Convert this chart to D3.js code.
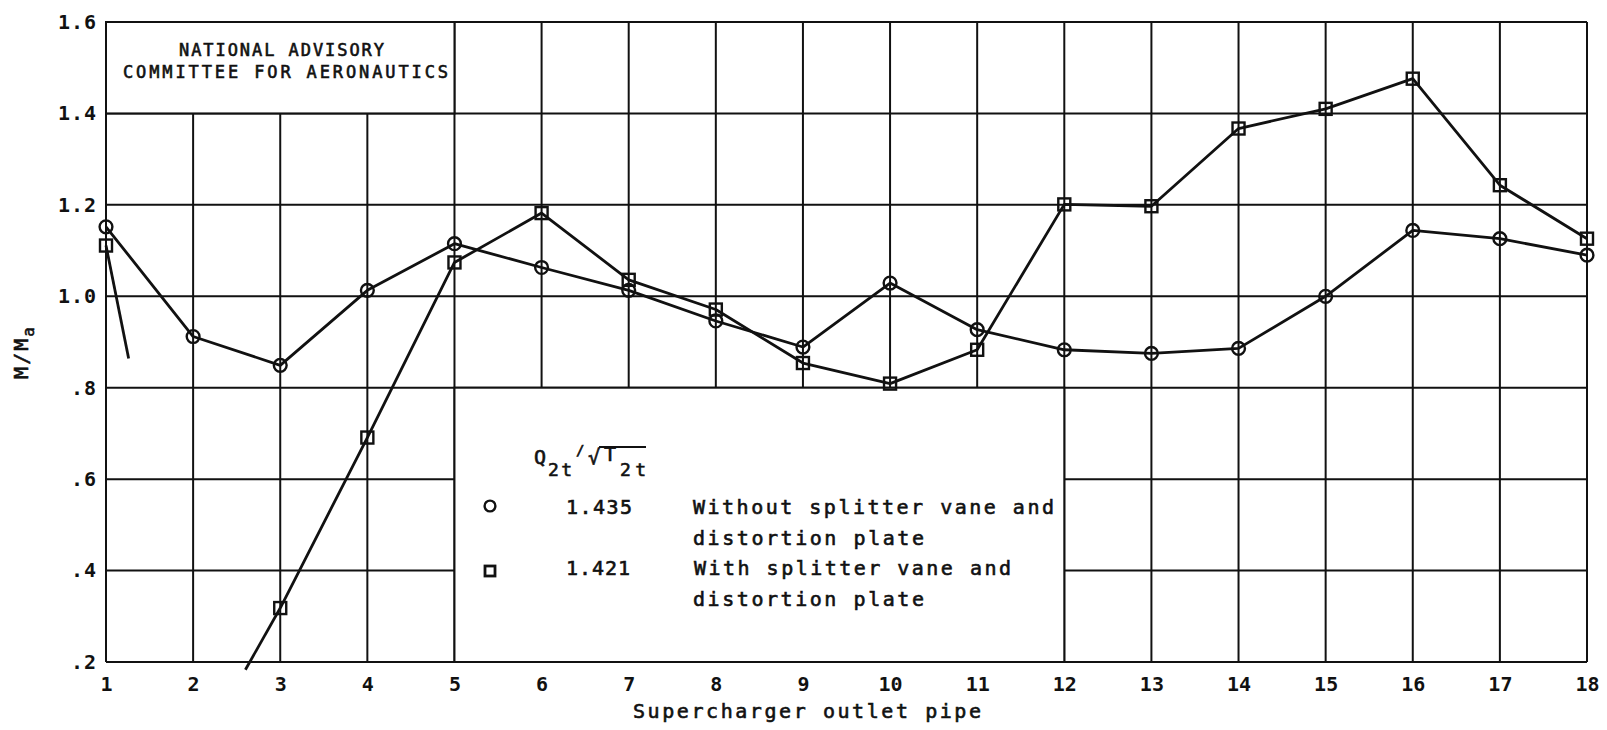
<!DOCTYPE html>
<html>
<head>
<meta charset="utf-8">
<script src="https://cdn.jsdelivr.net/npm/d3@7"></script>
<style>
  body { margin: 0; background: #fff; }
  svg { display: block; }
  .lbl { font-family: "DejaVu Sans Mono", monospace; fill: #111; }
  .heavy { stroke: #111; stroke-width: 0.6px; }
</style>
</head>
<body>
<div class="chart"></div>
<script>
// data
var pipes = [1, 2, 3, 4, 5, 6, 7, 8, 9, 10, 11, 12, 13, 14, 15, 16, 17, 18];
var withoutVane = [1.152, 0.912, 0.849, 1.013, 1.115, 1.063, 1.013, 0.946, 0.889, 1.029, 0.927, 0.883, 0.875, 0.886, 1.0, 1.144, 1.126, 1.09];
// pipe 2 falls below the chart
var withVane = [1.111, null, 0.318, 0.691, 1.074, 1.182, 1.036, 0.971, 0.854, 0.809, 0.883, 1.201, 1.197, 1.367, 1.41, 1.476, 1.243, 1.126];
// broken-off line pieces toward the off-chart point
var withVaneStubs = [{from: 1, pipe: 1.26, value: 0.864}, {from: 3, pipe: 2.60, value: 0.183}];
var yTicks = [0.2, 0.4, 0.6, 0.8, 1.0, 1.2, 1.4, 1.6];
var yTickLabels = [".2", ".4", ".6", ".8", "1.0", "1.2", "1.4", "1.6"];
var xTickLabels = ["1", "2", "3", "4", "5", "6", "7", "8", "9", "10", "11", "12", "13", "14", "15", "16", "17", "18"];

var W = 1607, H = 730;
var margin = {top: 22, right: 20, bottom: 68, left: 106},
    width = W - margin.left - margin.right,
    height = H - margin.top - margin.bottom;

var x = d3.scaleLinear().domain([1, 18]).range([0, width]);
var y = d3.scaleLinear().domain([0.2, 1.6]).range([height, 0]);

var svg = d3.select(".chart").append("svg")
    .attr("width", W)
    .attr("height", H);
svg.append("rect").attr("width", W).attr("height", H).attr("fill", "#fff");

var g = svg.append("g")
    .attr("transform", "translate(" + margin.left + "," + margin.top + ")");

// grid
g.selectAll(".hgrid")
    .data(yTicks)
    .enter().append("line")
    .attr("x1", x(1)).attr("x2", x(18))
    .attr("y1", function (d) { return y(d); })
    .attr("y2", function (d) { return y(d); })
    .attr("stroke", "#111").attr("stroke-width", 2);
g.selectAll(".vgrid")
    .data(pipes)
    .enter().append("line")
    .attr("x1", function (d) { return x(d); })
    .attr("x2", function (d) { return x(d); })
    .attr("y1", y(0.2)).attr("y2", y(1.6))
    .attr("stroke", "#111").attr("stroke-width", 2);

// boxes that blank out the grid
function box(p0, p1, v0, v1) {
    return g.append("rect")
        .attr("x", x(p0)).attr("y", y(v1))
        .attr("width", x(p1) - x(p0)).attr("height", y(v0) - y(v1))
        .attr("fill", "#fff").attr("stroke", "#111").attr("stroke-width", 2);
}
box(1, 5, 1.4, 1.6);
box(5, 12, 0.2, 0.8);

// axes
var yAxis = g.append("g")
    .call(d3.axisLeft(y).tickValues(yTicks)
        .tickFormat(function (d, i) { return yTickLabels[i]; })
        .tickSize(0).tickPadding(9));
yAxis.select(".domain").remove();
yAxis.selectAll("text")
    .attr("class", "lbl")
    .style("font-size", "20px").style("font-weight", "bold")
    .attr("letter-spacing", "1px");

var xAxis = g.append("g")
    .attr("transform", "translate(0," + height + ")")
    .call(d3.axisBottom(x).tickValues(pipes)
        .tickFormat(function (d, i) { return xTickLabels[i]; })
        .tickSize(0).tickPadding(15));
xAxis.select(".domain").remove();
xAxis.selectAll("text")
    .attr("class", "lbl")
    .style("font-size", "20px").style("font-weight", "bold");

// lines
var line = d3.line()
    .defined(function (d) { return d.value != null; })
    .x(function (d) { return x(d.pipe); })
    .y(function (d) { return y(d.value); });

var circleData = pipes.map(function (p, i) { return {pipe: p, value: withoutVane[i]}; });
var squareData = pipes.map(function (p, i) { return {pipe: p, value: withVane[i]}; });

g.append("path")
    .datum(circleData)
    .attr("d", line)
    .attr("fill", "none").attr("stroke", "#111").attr("stroke-width", 2.8)
    .attr("stroke-linejoin", "round");
g.append("path")
    .datum(squareData)
    .attr("d", line)
    .attr("fill", "none").attr("stroke", "#111").attr("stroke-width", 2.8)
    .attr("stroke-linejoin", "round");
g.selectAll(".stub")
    .data(withVaneStubs)
    .enter().append("path")
    .attr("d", function (s) {
        return line([{pipe: s.from, value: withVane[pipes.indexOf(s.from)]}, {pipe: s.pipe, value: s.value}]);
    })
    .attr("fill", "none").attr("stroke", "#111").attr("stroke-width", 2.8);

// markers
g.selectAll(".circ")
    .data(circleData)
    .enter().append("circle")
    .attr("cx", function (d) { return x(d.pipe); })
    .attr("cy", function (d) { return y(d.value); })
    .attr("r", 6.4)
    .attr("fill", "none").attr("stroke", "#111").attr("stroke-width", 2.4);
g.selectAll(".sq")
    .data(squareData.filter(function (d) { return d.value != null; }))
    .enter().append("rect")
    .attr("x", function (d) { return x(d.pipe) - 6; })
    .attr("y", function (d) { return y(d.value) - 6; })
    .attr("width", 12).attr("height", 12)
    .attr("fill", "none").attr("stroke", "#111").attr("stroke-width", 2.4);

// texts, stretched to the lettering widths of the original
function label(px, py, str, size, len, anchor) {
    var t = svg.append("text")
        .attr("class", "lbl heavy")
        .attr("x", px).attr("y", py)
        .style("font-size", size + "px")
        .attr("text-anchor", anchor || "start")
        .text(str);
    if (len) t.attr("textLength", len).attr("lengthAdjust", "spacing");
    return t;
}

label(179, 56, "NATIONAL ADVISORY", 17, 205);
label(123, 78, "COMMITTEE FOR AERONAUTICS", 17, 325);
label(633, 718, "Supercharger outlet pipe", 20, 348);

// y title M/Ma
var yt = svg.append("text")
    .attr("class", "lbl heavy")
    .attr("transform", "translate(28,352) rotate(-90)")
    .attr("text-anchor", "middle")
    .style("font-size", "20px")
    .attr("letter-spacing", "2px");
yt.append("tspan").text("M/M");
yt.append("tspan").attr("dy", 6).style("font-size", "16px").text("a");

// legend header Q2t/sqrt(T2t)
label(534, 464, "Q", 20);
label(548, 476, "2t", 18, 24);
label(576, 455, "/", 14);
var rad = label(588, 464, "√", 20);
label(604, 461, "T", 20);
var sub2 = label(620, 476, "2t", 18, 26);
var rb = rad.node().getBBox(), sb = sub2.node().getBBox();
svg.append("line")
    .attr("x1", rb.x + rb.width - 1).attr("x2", sb.x + sb.width)
    .attr("y1", rb.y + 2).attr("y2", rb.y + 2)
    .attr("stroke", "#111").attr("stroke-width", 1.8);

// legend rows
svg.append("circle")
    .attr("cx", 490).attr("cy", 506).attr("r", 5.4)
    .attr("fill", "none").attr("stroke", "#111").attr("stroke-width", 2.4);
svg.append("rect")
    .attr("x", 485).attr("y", 566).attr("width", 10).attr("height", 10)
    .attr("fill", "none").attr("stroke", "#111").attr("stroke-width", 2.8);
label(566, 514, "1.435", 20, 66);
label(566, 575, "1.421", 20, 64);
label(693, 514, "Without splitter vane and", 20, 361);
label(693, 545, "distortion plate", 20, 231);
label(694, 575, "With splitter vane and", 20, 317);
label(693, 606, "distortion plate", 20, 231);
</script>
</body>
</html>
